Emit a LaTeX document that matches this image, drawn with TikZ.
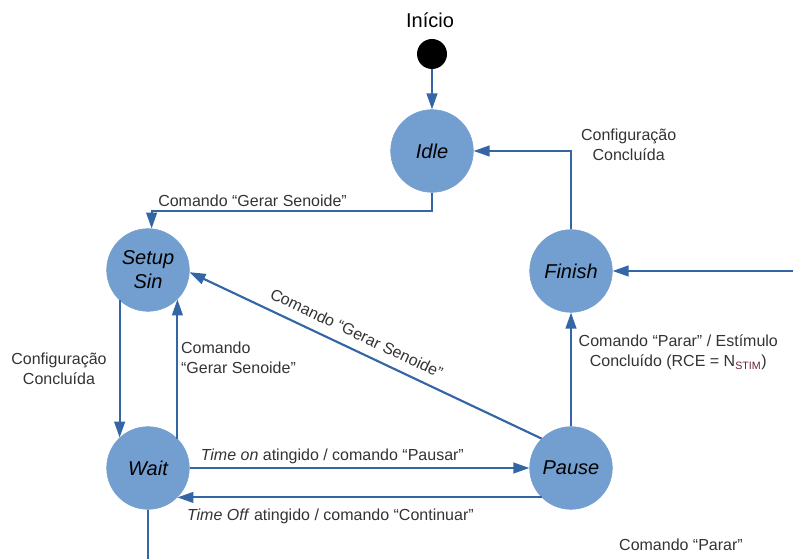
\documentclass[tikz,border=0pt]{standalone}
\usepackage{fontspec}
\setmainfont{Liberation Sans}
\usetikzlibrary{arrows.meta}
\definecolor{linha}{HTML}{3465A4}
\definecolor{estado}{HTML}{729FCF}
\definecolor{texto}{HTML}{333333}
\definecolor{indice}{HTML}{6B2140}
\begin{document}
\begin{tikzpicture}
	[x=0.75pt,y=-0.75pt,
	state/.style={circle,draw=estado,fill=estado,minimum size=62pt,inner sep=0pt,align=center,font=\fontsize{15}{18}\selectfont\itshape},
	lbl/.style={text=texto,font=\fontsize{12}{15}\selectfont,align=center,inner sep=2pt},
	seta/.style={draw=linha,line width=1.6pt},
	>={Triangle[width=8pt,length=12pt]}]
    \useasboundingbox (0,0) rectangle (793,559);
    \node[circle,fill=black,minimum size=22.5pt,inner sep=0pt] (start) at (432,54) {};
    \node[font=\fontsize{15}{18}\selectfont] (inicio) at (430,20) {Início};
    \node[state] (idle) at (432,151) {Idle};
    \node[state] (setup) at (148,270) {Setup\\Sin};
    \node[state] (finish) at (571,271) {Finish};
    \node[state] (wait) at (148,468) {Wait};
    \node[state] (pause) at (571,468) {Pause};
    \coordinate (inR) at (793,271);
    \coordinate (outW) at (148,559);
    \draw [seta,->] (start) -- (idle);
    \draw [seta,->] (idle.south) -- ++(0,18) -| (setup.85)
        node[lbl,above,pos=0.32] {Comando “Gerar Senoide”};
    \draw [seta,->] (finish.north) |- (idle.east)
        node[lbl,anchor=west,pos=0.5,xshift=4.75pt,yshift=5pt] {Configuração\\Concluída};
    \draw [seta,->] (inR) -- (finish);
    \draw [seta,->] (setup.-133) -- (wait.133)
        node[lbl,midway,left,xshift=-7pt] {Configuração\\Concluída};
    \draw [seta,->] (wait.45) -- (setup.-45)
        node[lbl,pos=0.58,right,align=left] {Comando\\“Gerar Senoide”};
    \draw [seta,->] (pause.135) -- (setup.-3)
        node[lbl,pos=0.545,above=5pt,sloped] {Comando “Gerar Senoide”};
    \draw [seta,->] (wait.east) -- (pause.west)
        node[lbl,pos=0.42,above] {\textit{Time on} atingido / comando “Pausar”};
    \draw [seta,->] (pause.-135) -- (wait.-45)
        node[lbl,pos=0.58,below=6pt] {\textit{Time Off} atingido / comando “Continuar”};
    \draw [seta,->] (pause) -- (finish)
        node[lbl,pos=0.65,right,xshift=3pt] {Comando “Parar” / Estímulo\\Concluído (RCE = N\textsubscript{\textcolor{indice}{STIM}})};
    \draw [seta] (wait) -- (outW);
    \node[lbl] (parar) at (681,545) {Comando “Parar”};
\end{tikzpicture}
\end{document}
